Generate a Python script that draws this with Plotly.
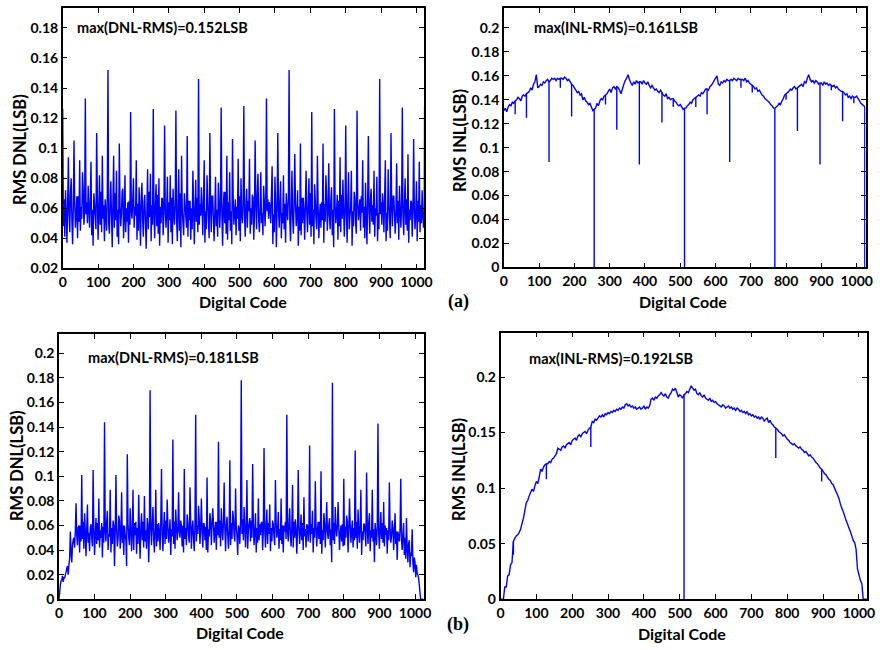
import plotly.graph_objects as go

# ---------------- DATA (values in thousandths of an LSB) ----------------
# (a) RMS DNL: big spikes at codes 16k (k=0..63)
dnl_a_spikes = [126, 94, 105, 92, 133, 91, 110, 95,
                152, 95, 103, 82, 124, 92, 77, 86,
                126, 80, 115, 82, 125, 95, 108, 85,
                146, 92, 110, 81, 127, 95, 106, 93,
                128, 93, 105, 84, 133, 88, 110, 82,
                152, 96, 103, 85, 124, 95, 103, 90,
                126, 94, 115, 85, 125, 92, 108, 85,
                146, 92, 110, 90, 127, 96, 106, 91]
# secondary spikes at codes 16k+8
dnl_a_mid = [72, 80, 68, 84, 75, 70, 82, 66,
             78, 85, 71, 64, 80, 74, 69, 83,
             76, 67, 81, 73, 86, 70, 65, 79,
             74, 82, 68, 77, 71, 84, 66, 80,
             73, 69, 83, 75, 64, 81, 78, 70,
             85, 72, 67, 80, 76, 63, 82, 74,
             69, 79, 84, 71, 66, 77, 73, 81,
             70, 86, 68, 75, 80, 65, 78, 72]
# noise at codes 16k+2,4,6,10,12,14
dnl_a_noise = [
    48, 66, 41, 58, 37, 62, 55, 44, 70, 52, 36, 60, 63, 47, 57, 40, 68, 51, 45, 61, 53, 72, 49, 58,
    56, 64, 50, 60, 47, 66, 42, 59, 35, 63, 54, 46, 67, 39, 57, 49, 71, 44, 53, 62, 38, 58, 45, 69,
    50, 43, 61, 55, 34, 64, 47, 70, 52, 41, 59, 36, 62, 48, 56, 73, 40, 54, 44, 60, 51, 37, 65, 49,
    58, 53, 66, 47, 61, 55, 39, 63, 45, 57, 35, 68, 52, 41, 64, 50, 33, 59, 46, 71, 54, 38, 62, 49,
    57, 40, 63, 48, 69, 43, 35, 61, 50, 66, 42, 56, 60, 47, 58, 37, 64, 52, 44, 67, 36, 59, 49, 62,
    53, 38, 61, 45, 70, 34, 58, 50, 42, 63, 55, 47, 41, 65, 52, 39, 60, 46, 62, 36, 57, 51, 67, 44,
    49, 63, 55, 60, 42, 66, 37, 58, 46, 64, 51, 40, 61, 44, 68, 53, 38, 57, 48, 59, 41, 65, 47, 62,
    55, 35, 60, 50, 71, 43, 39, 64, 52, 45, 58, 36, 66, 49, 57, 42, 61, 53, 45, 68, 38, 56, 50, 63,
    54, 41, 62, 47, 65, 58, 43, 60, 49, 67, 39, 55, 63, 46, 70, 52, 44, 59, 50, 57, 42, 64, 48, 61,
    58, 66, 53, 61, 50, 69, 36, 56, 44, 62, 34, 59, 60, 47, 65, 40, 57, 50, 46, 63, 37, 59, 52, 67,
    51, 38, 60, 54, 43, 62, 64, 48, 56, 35, 61, 45, 42, 67, 50, 58, 39, 63, 57, 44, 62, 49, 70, 41,
    48, 59, 36, 65, 53, 46, 61, 40, 55, 47, 64, 52, 37, 63, 51, 68, 45, 57, 55, 46, 66, 42, 59, 34,
    62, 50, 57, 39, 65, 48, 44, 69, 53, 60, 41, 56, 59, 37, 64, 46, 54, 61, 35, 58, 48, 67, 50, 43,
    63, 52, 60, 45, 68, 57, 47, 61, 40, 56, 36, 64, 58, 43, 66, 51, 62, 49, 41, 60, 55, 38, 57, 46,
    56, 64, 49, 62, 44, 67, 38, 57, 45, 63, 52, 40, 61, 48, 68, 55, 43, 58, 50, 65, 39, 60, 47, 62,
    54, 42, 63, 49, 66, 45, 37, 59, 52, 64, 41, 56, 60, 46, 57, 38, 65, 51, 44, 62, 50, 56, 47, 58]
dnl_a_edge_codes = [1023]
dnl_a_edge_vals = [128]

# (b) RMS DNL
dnl_b_spikes = [0, 17, 55, 78, 101, 77, 105, 82,
                144, 89, 101, 87, 118, 89, 85, 84,
                170, 89, 106, 81, 130, 87, 106, 91,
                150, 82, 99, 74, 128, 95, 113, 90,
                178, 97, 110, 82, 123, 77, 97, 82,
                150, 93, 105, 83, 125, 96, 104, 79,
                176, 79, 98, 82, 121, 89, 103, 89,
                143, 79, 95, 70, 98, 66, 57, 20]
dnl_b_mid = [16, 27, 48, 60, 70, 58, 66, 62,
             72, 64, 68, 60, 74, 63, 70, 66,
             75, 62, 71, 65, 73, 60, 69, 64,
             76, 61, 70, 63, 74, 67, 72, 60,
             75, 66, 70, 62, 73, 64, 71, 60,
             74, 65, 69, 61, 72, 63, 70, 66,
             75, 60, 68, 64, 73, 61, 70, 62,
             71, 58, 64, 55, 62, 48, 30, 0]
dnl_b_noise = [
    5, 12, 15, 19, 14, 18, 20, 22, 25, 20, 28, 33, 38, 30, 44, 50, 42, 55, 52, 44, 58, 38, 60, 47,
    49, 63, 41, 55, 35, 57, 46, 54, 39, 61, 50, 43, 58, 36, 52, 45, 62, 48, 42, 56, 50, 34, 59, 46,
    55, 47, 63, 40, 53, 51, 38, 58, 45, 60, 27, 54, 57, 43, 49, 64, 41, 52, 46, 60, 36, 53, 48, 27,
    61, 50, 44, 57, 39, 55, 40, 62, 52, 37, 58, 45, 54, 33, 59, 48, 63, 42, 47, 56, 41, 60, 30, 53,
    58, 44, 62, 50, 38, 57, 43, 61, 47, 55, 40, 63, 52, 39, 58, 45, 64, 49, 60, 46, 53, 36, 57, 51,
    45, 63, 41, 59, 48, 55, 56, 50, 64, 43, 60, 38, 49, 58, 44, 62, 52, 46, 63, 41, 57, 50, 39, 61,
    47, 60, 53, 65, 45, 58, 55, 42, 62, 48, 59, 40, 38, 57, 51, 64, 44, 60, 61, 46, 56, 40, 63, 52,
    50, 64, 43, 58, 48, 62, 57, 39, 60, 53, 41, 55, 44, 62, 49, 66, 52, 47, 59, 51, 36, 57, 45, 63,
    53, 65, 48, 60, 42, 58, 41, 56, 62, 47, 64, 50, 60, 44, 55, 38, 58, 46, 48, 61, 52, 63, 40, 56,
    57, 42, 59, 45, 62, 53, 39, 58, 47, 61, 51, 44, 62, 50, 56, 41, 57, 48, 45, 60, 38, 55, 63, 49,
    56, 47, 61, 52, 43, 59, 42, 63, 50, 57, 37, 54, 59, 45, 55, 48, 62, 40, 51, 57, 42, 60, 47, 56,
    46, 61, 53, 38, 58, 50, 60, 43, 57, 49, 63, 45, 37, 56, 48, 62, 42, 58, 55, 49, 61, 44, 57, 30,
    48, 62, 45, 58, 51, 60, 57, 40, 54, 47, 61, 43, 44, 59, 50, 63, 38, 55, 61, 46, 56, 42, 58, 48,
    50, 63, 41, 57, 46, 60, 36, 55, 48, 61, 52, 43, 58, 45, 62, 39, 56, 50, 47, 57, 30, 55, 44, 59,
    54, 41, 58, 49, 62, 46, 43, 60, 52, 37, 56, 48, 57, 46, 51, 59, 40, 53, 45, 55, 32, 50, 47, 57,
    48, 40, 53, 36, 50, 33, 42, 30, 45, 26, 38, 35, 30, 22, 34, 18, 28, 21, 17, 12, 5, 0, 0, 0]
dnl_b_edge_codes = [1023]
dnl_b_edge_vals = [0]

# (a) RMS INL base curve, codes 0,4,...,1020 and 1023
inl_a_vals = [
    131, 133, 130, 134, 136, 135, 138, 137, 139, 140, 142, 141, 139, 143, 144, 143,
    145, 146, 147, 150, 148, 153, 155, 161, 150, 151, 153, 152, 155, 154, 156, 157,
    155, 156, 158, 157, 158, 156, 158, 157, 158, 158, 157, 159, 158, 156, 157, 155,
    153, 152, 150, 148, 146, 147, 144, 145, 140, 142, 139, 138, 136, 137, 134, 131,
    132, 133, 137, 135, 139, 141, 140, 143, 144, 145, 147, 149, 146, 150, 151, 149,
    151, 150, 148, 145, 149, 153, 156, 158, 161, 157, 154, 152, 155, 153, 156, 154,
    155, 155, 153, 156, 154, 153, 155, 152, 150, 152, 150, 148, 149, 147, 146, 148,
    146, 144, 143, 145, 141, 142, 140, 141, 141, 139, 138, 136, 135, 136, 134, 132,
    133, 133, 135, 136, 138, 137, 140, 141, 142, 143, 144, 143, 146, 145, 147, 149,
    149, 148, 151, 152, 154, 156, 158, 160, 153, 152, 155, 154, 156, 155, 157, 156,
    156, 157, 156, 158, 157, 156, 158, 157, 157, 157, 156, 158, 155, 156, 154, 153,
    152, 151, 149, 150, 147, 148, 146, 144, 143, 141, 140, 139, 138, 136, 135, 133,
    133, 134, 135, 137, 136, 139, 141, 144, 145, 146, 147, 149, 148, 150, 151, 149,
    150, 151, 152, 153, 151, 155, 154, 158, 161, 157, 155, 156, 154, 156, 155, 153,
    154, 154, 152, 155, 153, 154, 152, 153, 152, 151, 152, 150, 151, 149, 148, 147,
    147, 146, 144, 145, 142, 143, 141, 143, 142, 142, 143, 141, 139, 137, 136, 135,
    134]
inl_a_codes = list(range(0, 1024, 4)) + [1023]
# downward glitches of INL (a): code -> value
inl_a_dip_codes = [32, 64, 128, 160, 192, 256, 288, 320, 384, 448, 480, 512, 544, 576,
                   640, 672, 704, 768, 800, 832, 896, 928, 960, 992, 1023]
inl_a_dip_vals = [128, 125, 88, 150, 126, 0, 136, 115, 86, 121, 134, 0, 134, 128,
                  88, 150, 146, 0, 140, 114, 86, 148, 122, 137, 0]

# (b) RMS INL base curve, codes 0,4,...,1020 and 1023
inl_b_vals = [
    0, 0, 0, 11, 11, 21, 22, 31, 33, 52, 55, 57, 58, 60, 63, 68,
    73, 80, 87, 89, 93, 96, 99, 97, 102, 106, 104, 110, 117, 115, 119, 121,
    122, 122, 124, 123, 126, 127, 129, 131, 136, 135, 134, 137, 138, 136, 139, 140,
    141, 139, 143, 144, 145, 143, 147, 148, 146, 149, 150, 151, 149, 152, 154, 155,
    160, 159, 162, 161, 163, 165, 164, 166, 164, 167, 166, 168, 167, 169, 168, 170,
    169, 171, 170, 172, 171, 173, 172, 175, 176, 174, 175, 173, 174, 172, 173, 171,
    172, 173, 171, 172, 174, 171, 173, 172, 174, 180, 181, 179, 182, 181, 183, 184,
    186, 184, 183, 185, 182, 181, 184, 186, 189, 188, 190, 186, 182, 184, 183, 181,
    184, 185, 187, 186, 189, 192, 190, 188, 189, 185, 184, 186, 183, 182, 184, 181,
    180, 179, 181, 178, 179, 177, 178, 176, 175, 174, 173, 175, 174, 172, 173, 174,
    172, 173, 171, 172, 170, 172, 171, 169, 170, 168, 169, 167, 169, 166, 167, 165,
    166, 164, 165, 163, 164, 162, 164, 163, 160, 162, 163, 159, 161, 158, 157, 155,
    154, 153, 151, 150, 149, 147, 148, 146, 144, 143, 141, 140, 139, 140, 138, 137,
    136, 137, 135, 134, 132, 133, 131, 129, 130, 128, 127, 125, 123, 122, 120, 118,
    117, 115, 113, 112, 110, 108, 107, 104, 103, 100, 97, 94, 91, 86, 82, 79,
    75, 71, 68, 64, 61, 57, 53, 51, 45, 27, 22, 17, 14, 0, 0, 0,
    0]
inl_b_codes = list(range(0, 1024, 4)) + [1023]
inl_b_dip_codes = [36, 128, 252, 512, 768, 896]
inl_b_dip_vals = [40, 108, 137, 0, 127, 106]

x_ticks = [0, 100, 200, 300, 400, 500, 600, 700, 800, 900, 1000]
y_ticks_dnl_a = [0.02, 0.04, 0.06, 0.08, 0.1, 0.12, 0.14, 0.16, 0.18]
y_ticks_02 = [0, 0.02, 0.04, 0.06, 0.08, 0.1, 0.12, 0.14, 0.16, 0.18, 0.2]
y_ticks_inl_b = [0, 0.05, 0.1, 0.15, 0.2]

labels = {
    "tl": "max(DNL-RMS)=0.152LSB", "tr": "max(INL-RMS)=0.161LSB",
    "bl": "max(DNL-RMS)=0.181LSB", "br": "max(INL-RMS)=0.192LSB",
}


def assemble(spikes, mids, noise, edge_codes, edge_vals):
    pts = {}
    offs = (2, 4, 6, 10, 12, 14)
    for k in range(64):
        pts[16 * k] = spikes[k]
        pts[16 * k + 8] = mids[k]
        for j, o in enumerate(offs):
            pts[16 * k + o] = noise[6 * k + j]
    for c, v in zip(edge_codes, edge_vals):
        pts[c] = v
    cs = sorted(pts)
    return cs, [pts[c] / 1000 for c in cs]


def dip_segments(codes, vals, dip_codes, dip_vals):
    base = dict(zip(codes, vals))
    xs, ys = [], []
    for c, v in zip(dip_codes, dip_vals):
        xs += [c, c, None]
        ys += [base[c] / 1000, v / 1000, None]
    return xs, ys


def fmt(v):
    s = ("%.2f" % v).rstrip("0").rstrip(".")
    return s if s else "0"


dnl_a_x, dnl_a_y = assemble(dnl_a_spikes, dnl_a_mid, dnl_a_noise, dnl_a_edge_codes, dnl_a_edge_vals)
dnl_b_x, dnl_b_y = assemble(dnl_b_spikes, dnl_b_mid, dnl_b_noise, dnl_b_edge_codes, dnl_b_edge_vals)
inl_a_y = [v / 1000 for v in inl_a_vals]
inl_b_y = [v / 1000 for v in inl_b_vals]
dip_a_x, dip_a_y = dip_segments(inl_a_codes, inl_a_vals, inl_a_dip_codes, inl_a_dip_vals)
dip_b_x, dip_b_y = dip_segments(inl_b_codes, inl_b_vals, inl_b_dip_codes, inl_b_dip_vals)

# ---------------- LAYOUT ----------------
W, H = 889, 650
FONT = "Lato"
BLUE = "#0000ff"


def fx(p):
    return p / W


def fy(p):
    return 1 - p / H


fig = go.Figure()
dline = dict(color=BLUE, width=1.4, simplify=False)
iline = dict(color=BLUE, width=1.4, simplify=False)
fig.add_trace(go.Scatter(x=dnl_a_x, y=dnl_a_y, mode="lines", line=dline, xaxis="x", yaxis="y"))
fig.add_trace(go.Scatter(x=inl_a_codes, y=inl_a_y, mode="lines", line=iline, xaxis="x2", yaxis="y2"))
fig.add_trace(go.Scatter(x=dip_a_x, y=dip_a_y, mode="lines", line=iline, xaxis="x2", yaxis="y2"))
fig.add_trace(go.Scatter(x=dnl_b_x, y=dnl_b_y, mode="lines", line=dline, xaxis="x3", yaxis="y3"))
fig.add_trace(go.Scatter(x=inl_b_codes, y=inl_b_y, mode="lines", line=iline, xaxis="x4", yaxis="y4"))
fig.add_trace(go.Scatter(x=dip_b_x, y=dip_b_y, mode="lines", line=iline, xaxis="x4", yaxis="y4"))

tickfont = dict(family=FONT, size=14, color="black", weight="bold")


def xax(dom, rng, anchor):
    return dict(domain=[fx(dom[0]), fx(dom[1])], range=rng, anchor=anchor,
                tickvals=x_ticks, ticktext=[str(t) for t in x_ticks],
                showline=True, linecolor="black", linewidth=1.5, mirror="ticks",
                ticks="inside", ticklen=5, tickwidth=1.2, tickcolor="black",
                showgrid=False, zeroline=False, tickfont=tickfont)


def yax(dom, rng, anchor, tv):
    return dict(domain=[fy(dom[1]), fy(dom[0])], range=rng, anchor=anchor,
                tickvals=tv, ticktext=[fmt(t) for t in tv],
                showline=True, linecolor="black", linewidth=1.5, mirror="ticks",
                ticks="inside", ticklen=5, tickwidth=1.2, tickcolor="black",
                showgrid=False, zeroline=False, tickfont=tickfont)


fig.update_layout(
    width=W, height=H, margin=dict(l=0, r=0, t=0, b=0),
    paper_bgcolor="white", plot_bgcolor="white", showlegend=False,
    xaxis=xax((59.5, 426), [0, 1022], "y"),
    yaxis=yax((8, 271.7), [0.02, 0.1933], "x", y_ticks_dnl_a),
    xaxis2=xax((506.7, 873.3), [0, 1025], "y2"),
    yaxis2=yax((8.3, 270.7), [0, 0.2165], "x2", y_ticks_02),
    xaxis3=xax((55.7, 425.3), [0, 1024], "y3"),
    yaxis3=yax((338.3, 606.7), [0, 0.2156], "x3", y_ticks_02),
    xaxis4=xax((503.3, 875), [0, 1023], "y4"),
    yaxis4=yax((336.7, 606.7), [0, 0.24], "x4", y_ticks_inl_b),
)

ann = []


def add_text(text, x, y, size, xanchor="center", angle=0, family=FONT):
    ann.append(dict(text=text, x=fx(x), y=fy(y), xref="paper", yref="paper",
                    xanchor=xanchor, yanchor="middle", showarrow=False, textangle=angle,
                    font=dict(family=family, size=size, color="black", weight="bold")))


add_text(labels["tl"], 72, 28, 14.5, "left")
add_text(labels["tr"], 535, 28, 14.5, "left")
add_text(labels["bl"], 83, 362, 14.5, "left")
add_text(labels["br"], 530, 362.5, 14.5, "left")
for cx, cy in [(242, 305), (688, 305), (239, 640), (687, 641)]:
    add_text("Digital Code", cx, cy, 16)
for cx, cy, t in [(16, 151, "RMS DNL(LSB)"), (462, 142, "RMS INL(LSB)"),
                  (13, 471, "RMS DNL(LSB)"), (461, 475, "RMS INL(LSB)")]:
    add_text(t, cx, cy, 16.5, angle=-90)
add_text("(a)", 461, 305, 18, family="Liberation Serif")
add_text("(b)", 460, 632, 18, family="Liberation Serif")
fig.update_layout(annotations=ann)

fig.write_html("out.html")
